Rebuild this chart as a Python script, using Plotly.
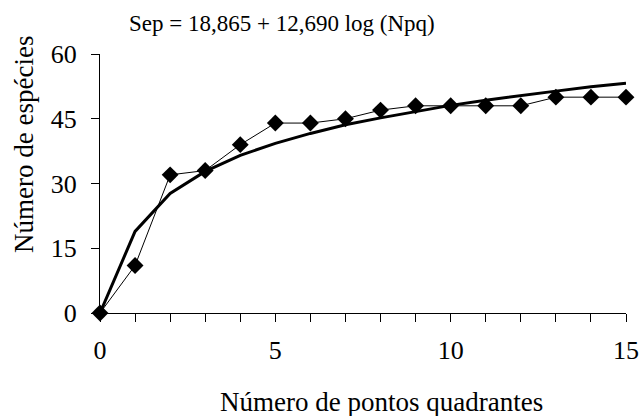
import plotly.graph_objects as go

# Observed data
npq = list(range(0, 16))
especies = [0, 11, 32, 33, 39, 44, 44, 45, 47, 48, 48, 48, 48, 50, 50, 50]
# Fitted curve values
ajuste = [0, 18.9, 27.7, 32.8, 36.5, 39.3, 41.6, 43.6, 45.2, 46.7, 48.1, 49.3, 50.4, 51.4, 52.4, 53.2]

titulo = "Sep = 18,865 + 12,690 log (Npq)"
x_titulo = "Número de pontos quadrantes"
y_titulo = "Número de espécies"
y_ticks = [0, 15, 30, 45, 60]
x_ticks = [0, 5, 10, 15]

FONT = "Times New Roman, Liberation Serif, serif"

fig = go.Figure()
fig.add_trace(go.Scatter(x=npq, y=ajuste, mode="lines",
                         line=dict(color="black", width=3), cliponaxis=False,
                         showlegend=False, hoverinfo="skip"))
fig.add_trace(go.Scatter(x=npq, y=especies, mode="lines+markers",
                         line=dict(color="black", width=1),
                         marker=dict(symbol="diamond", size=13, color="black"),
                         cliponaxis=False, showlegend=False))

fig.update_layout(
    width=641, height=416,
    margin=dict(l=100, r=15, t=54, b=103),
    paper_bgcolor="white", plot_bgcolor="white",
    font=dict(family=FONT, color="black", size=26),
    xaxis=dict(range=[0, 15], tickvals=x_ticks, showgrid=False, zeroline=False,
               automargin=False,
               showline=True, linecolor="black", linewidth=1,
               ticks="outside", ticklen=8, tickcolor="black", tickwidth=1,
               ticklabelstandoff=6,
               minor=dict(dtick=1, tick0=0, ticks="outside", ticklen=8,
                          tickcolor="black", tickwidth=1, showgrid=False),
               tickfont=dict(size=26, family=FONT)),
    yaxis=dict(range=[0, 60], tickvals=y_ticks, showgrid=False, zeroline=False,
               automargin=False,
               showline=True, linecolor="black", linewidth=1,
               ticks="outside", ticklen=8, tickcolor="black", tickwidth=1,
               ticklabelstandoff=9,
               tickfont=dict(size=26, family=FONT)),
    annotations=[
        dict(text=titulo, xref="paper", yref="paper", x=(281.5 - 100) / 526, y=1,
             yshift=31, showarrow=False, font=dict(size=23, family=FONT),
             xanchor="center", yanchor="middle"),
        dict(text=x_titulo, xref="paper", yref="paper", x=(381 - 100) / 526, y=0,
             yshift=-89, showarrow=False, font=dict(size=27, family=FONT),
             xanchor="center", yanchor="middle"),
        dict(text=y_titulo, xref="paper", yref="paper", x=0, xshift=-76,
             y=(313 - 145) / 259, textangle=-90, showarrow=False,
             font=dict(size=27, family=FONT), xanchor="center", yanchor="middle"),
    ],
)

fig.write_html("out.html", config={"displayModeBar": False},
               post_script="document.body.style.margin='0';document.body.style.padding='0';")
